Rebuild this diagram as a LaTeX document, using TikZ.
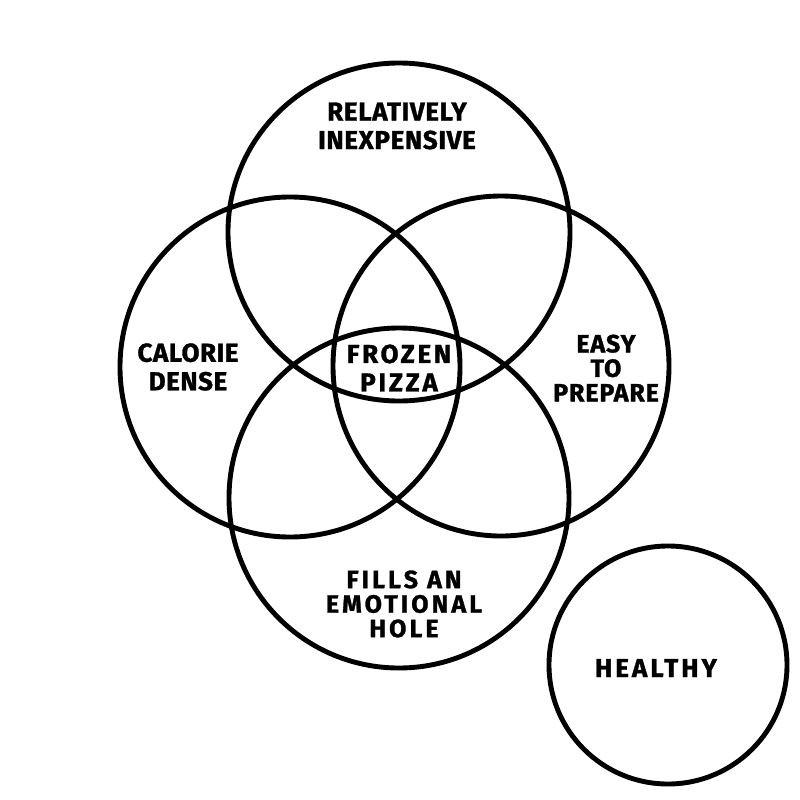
\documentclass[tikz,border=0pt]{standalone}
\usepackage{fontspec}
\setmainfont{Fira Sans}
\begin{document}
\begin{tikzpicture}[x=1pt,y=-1pt,
  ring/.style={line width=4.9pt,draw=black},
  lbl/.style={align=center,inner sep=0pt,font=\bfseries\fontsize{26}{28.5}\selectfont\addfontfeature{FakeBold=1.2,LetterSpace=#1}},
  lbltight/.style={align=center,inner sep=0pt,font=\bfseries\fontsize{25}{24.5}\selectfont\addfontfeature{FakeBold=1.2,LetterSpace=#1}}]
\useasboundingbox (0,0) rectangle (800,800);
\fill[white] (0,0) rectangle (800,800);
\draw[ring] (399,232) ellipse [x radius=171, y radius=169];
\draw[ring] (290,367) ellipse [x radius=170, y radius=170];
\draw[ring] (501,366) ellipse [x radius=168, y radius=170];
\draw[ring] (399,498) ellipse [x radius=170, y radius=170];
\draw[ring] (668,665) ellipse [x radius=119, y radius=119];
\node[lbl=2.5] (inexp) at (397,126) {RELATIVELY\\INEXPENSIVE};
\node[lbl=2] (calorie) at (188,367) {CALORIE\\DENSE};
\node[lbl=10.5] (pizza) at (399,368) {FROZEN\\PIZZA};
\node[lbltight=3.5] (easy) at (606,368) {EASY\\TO\\PREPARE};
\node[lbltight=12.5] (fills) at (404,604) {FILLS AN\\EMOTIONAL\\HOLE};
\node[lbl=11.5] (healthy) at (656,668) {HEALTHY};
\end{tikzpicture}
\end{document}
